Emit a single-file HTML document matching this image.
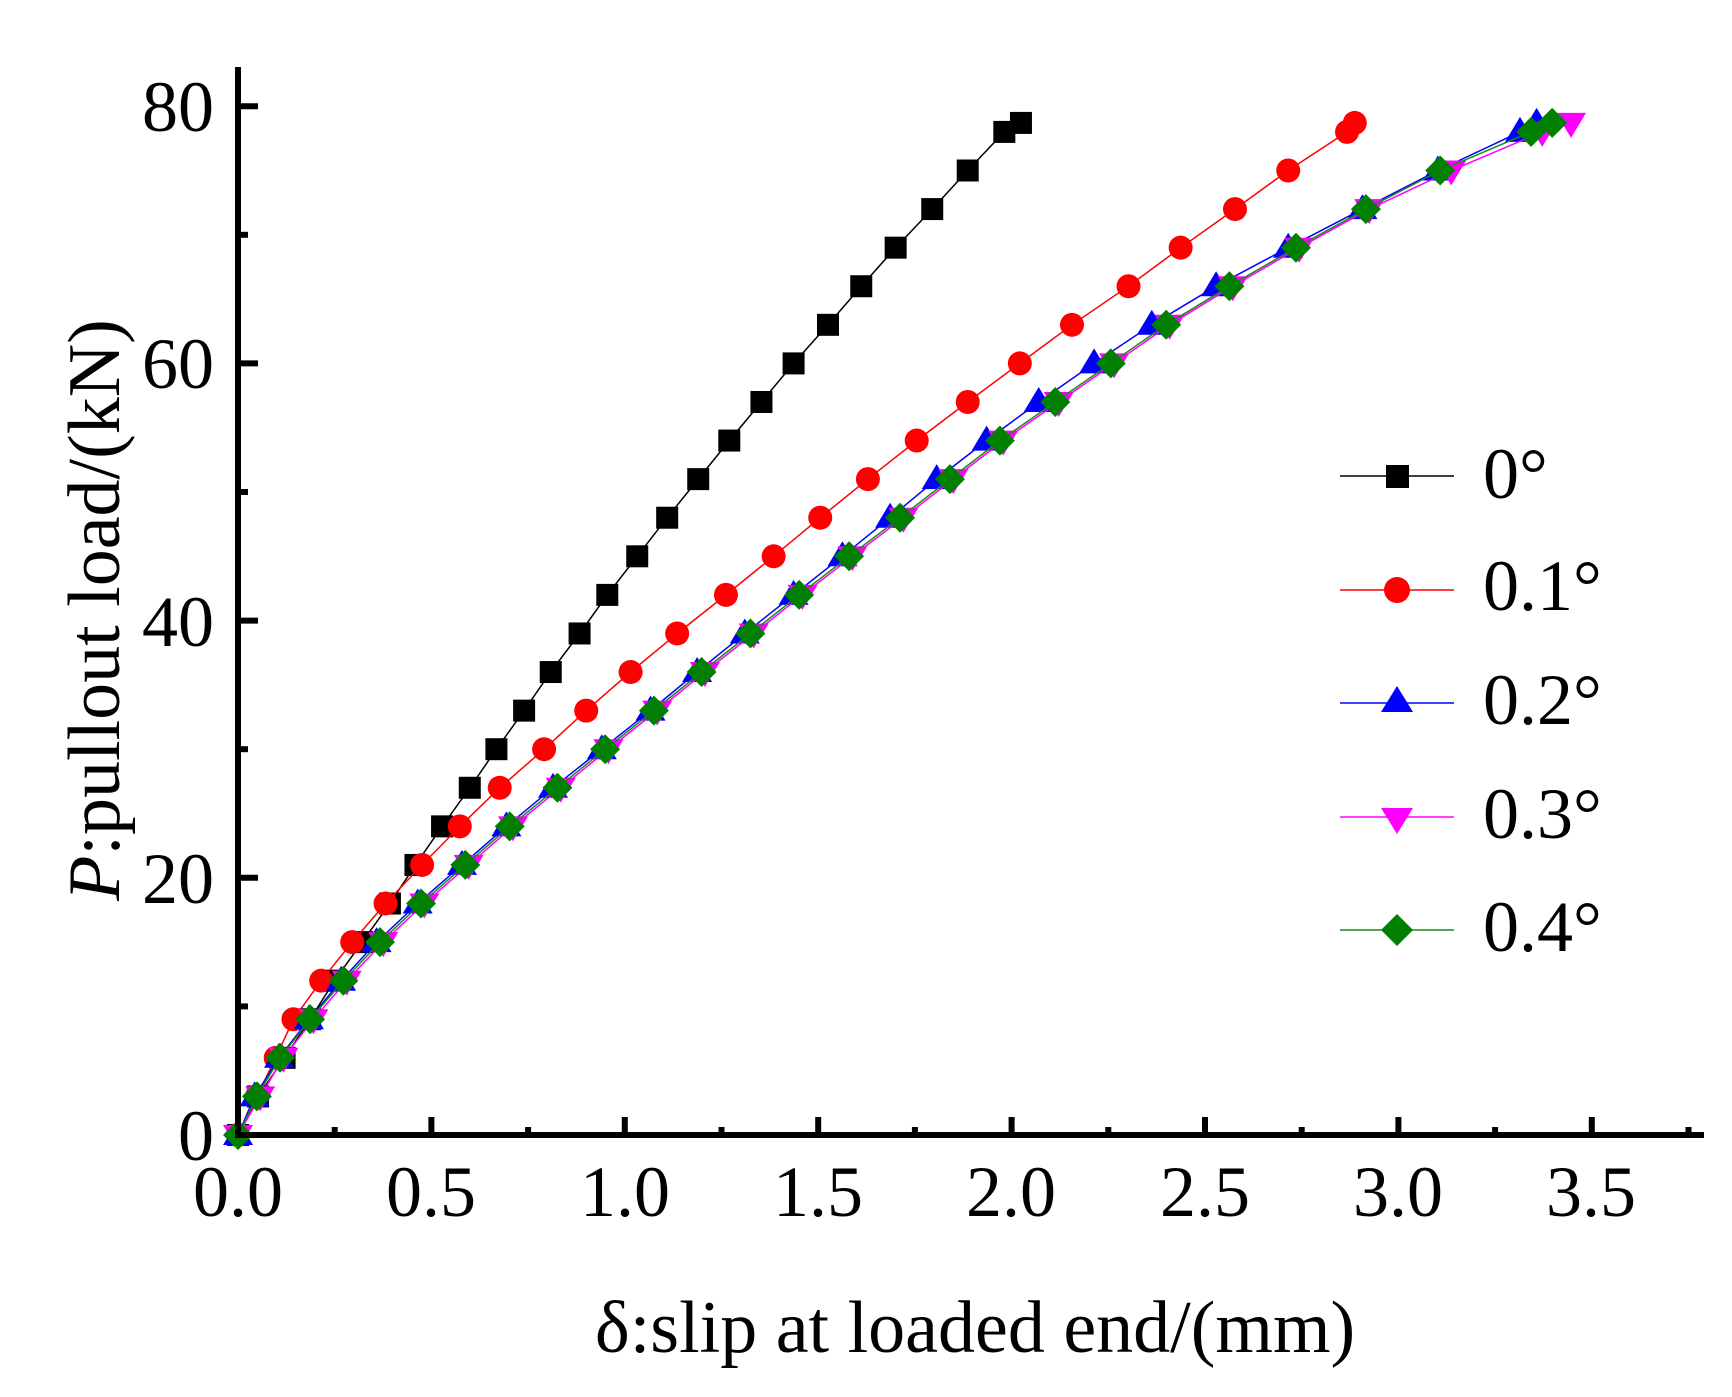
<!DOCTYPE html>
<html><head><meta charset="utf-8"><style>
html,body{margin:0;padding:0;background:#fff;}
svg{display:block;}
text{font-family:"Liberation Serif",serif;fill:#000;}
</style></head><body>
<svg id="s" xmlns="http://www.w3.org/2000/svg" width="1732" height="1397" viewBox="0 0 1732 1397">
<rect width="1732" height="1397" fill="#fff"/>
<g id="plot"></g>
<line x1="238" y1="67" x2="238" y2="1138" stroke="#000" stroke-width="6"/>
<line x1="235" y1="1135" x2="1704" y2="1135" stroke="#000" stroke-width="6"/>
<g id="ticks" stroke="#000" stroke-width="6"></g>
<g font-size="72" text-anchor="end">
<text x="214" y="1160">0</text>
<text x="214" y="903">20</text>
<text x="214" y="646">40</text>
<text x="214" y="388">60</text>
<text x="214" y="131">80</text>
</g>
<g font-size="72" text-anchor="middle">
<text x="238" y="1216">0.0</text>
<text x="431" y="1216">0.5</text>
<text x="625" y="1216">1.0</text>
<text x="818" y="1216">1.5</text>
<text x="1011" y="1216">2.0</text>
<text x="1205" y="1216">2.5</text>
<text x="1398" y="1216">3.0</text>
<text x="1591" y="1216">3.5</text>
</g>
<text x="975" y="1352" font-size="74" text-anchor="middle">δ:slip at loaded end/(mm)</text>
<text transform="translate(119,610) rotate(-90)" font-size="74" text-anchor="middle"><tspan font-style="italic">P</tspan>:pullout load/(kN)</text>
<g font-size="72">
<line x1="1340" y1="476" x2="1454" y2="476" stroke="#000" stroke-width="1.5"/>
<rect x="1386" y="465" width="23" height="23" fill="#000"/>
<text x="1483" y="498">0°</text>
<line x1="1340" y1="590" x2="1454" y2="590" stroke="#f00" stroke-width="1.5"/>
<circle cx="1397" cy="590" r="13" fill="#f00"/>
<text x="1483" y="610">0.1°</text>
<line x1="1340" y1="703" x2="1454" y2="703" stroke="#00f" stroke-width="1.5"/>
<polygon points="1397,686 1413,712 1381,712" fill="#00f"/>
<text x="1483" y="724">0.2°</text>
<line x1="1340" y1="817" x2="1454" y2="817" stroke="#f0f" stroke-width="1.5"/>
<polygon points="1381,808 1413,808 1397,834" fill="#f0f"/>
<text x="1483" y="838">0.3°</text>
<line x1="1340" y1="930" x2="1454" y2="930" stroke="#1a8a1a" stroke-width="1.5"/>
<polygon points="1397,914 1413,930 1397,946 1381,930" fill="#007f00"/>
<text x="1483" y="951">0.4°</text>
</g>
</svg>
<script>
var NS="http://www.w3.org/2000/svg";
var T=document.getElementById("ticks");
function ln(p,x1,y1,x2,y2){var l=document.createElementNS(NS,"line");l.setAttribute("x1",x1);l.setAttribute("y1",y1);l.setAttribute("x2",x2);l.setAttribute("y2",y2);p.appendChild(l);}
for(var i=0;i<=15;i++){var x=238+i*96.7;if(x>1700)break;ln(T,x,1135,x,i%2==0?1117:1127);}
for(var i=0;i<=8;i++){var y=1135-i*128.6;ln(T,238,y,i%2==0?258:248,y);}
var s0=[218,236,260,283,305,330,355,378,402,427,451,476,500,526,551,578,605,633,661,690,719,750,780,811,844,876,909,924];
var s1=[218,235,252,268,293,321,351,384,418,454,494,532,572,614,658,701,743,786,830,876,923,970,1021,1068,1117,1165,1218,1225];
var s2=[218,233,255,282,311,343,380,420,460,502,546,590,632,675,719,763,806,848,893,940,990,1042,1100,1165,1232,1300,1374,1389];
var s4=[218,235,256,283,313,346,383,423,463,506,549,593,636,680,724,769,815,860,905,955,1005,1055,1112,1172,1235,1302,1384,1403];
var s3=s4.map(function(v,i){return i==0?218:(i==27?1420:v+(i>24?10:3));});
function X(p){return 238+(p-218)*1.109;}
function Y(i){var l=i==27?78.7:i*3;return 1135-l*12.86;}
var P=document.getElementById("plot");
function series(d,col,mk){
 var pts=d.map(function(p,i){return X(p).toFixed(1)+","+Y(i).toFixed(1);}).join(" ");
 var pl=document.createElementNS(NS,"polyline");pl.setAttribute("points",pts);pl.setAttribute("fill","none");pl.setAttribute("stroke",col);pl.setAttribute("stroke-width","1.5");P.appendChild(pl);
 d.forEach(function(p,i){var x=X(p),y=Y(i),e;
  if(mk=="sq"){e=document.createElementNS(NS,"rect");e.setAttribute("x",x-11);e.setAttribute("y",y-11);e.setAttribute("width",22);e.setAttribute("height",22);}
  else if(mk=="ci"){e=document.createElementNS(NS,"circle");e.setAttribute("cx",x);e.setAttribute("cy",y);e.setAttribute("r",12);}
  else{e=document.createElementNS(NS,"polygon");var q;
   if(mk=="up")q=[[x,y-15],[x+15,y+10],[x-15,y+10]];
   else if(mk=="dn")q=[[x-15,y-10],[x+15,y-10],[x,y+15]];
   else q=[[x,y-15],[x+15,y],[x,y+15],[x-15,y]];
   e.setAttribute("points",q.map(function(a){return a[0].toFixed(1)+","+a[1].toFixed(1);}).join(" "));}
  e.setAttribute("fill",mk=="di"?"#007f00":col);P.appendChild(e);});
}
series(s0,"#000","sq");
series(s1,"#f00","ci");
series(s2,"#00f","up");
series(s3,"#f0f","dn");
series(s4,"#1a8a1a","di");
</script>
</body></html>
